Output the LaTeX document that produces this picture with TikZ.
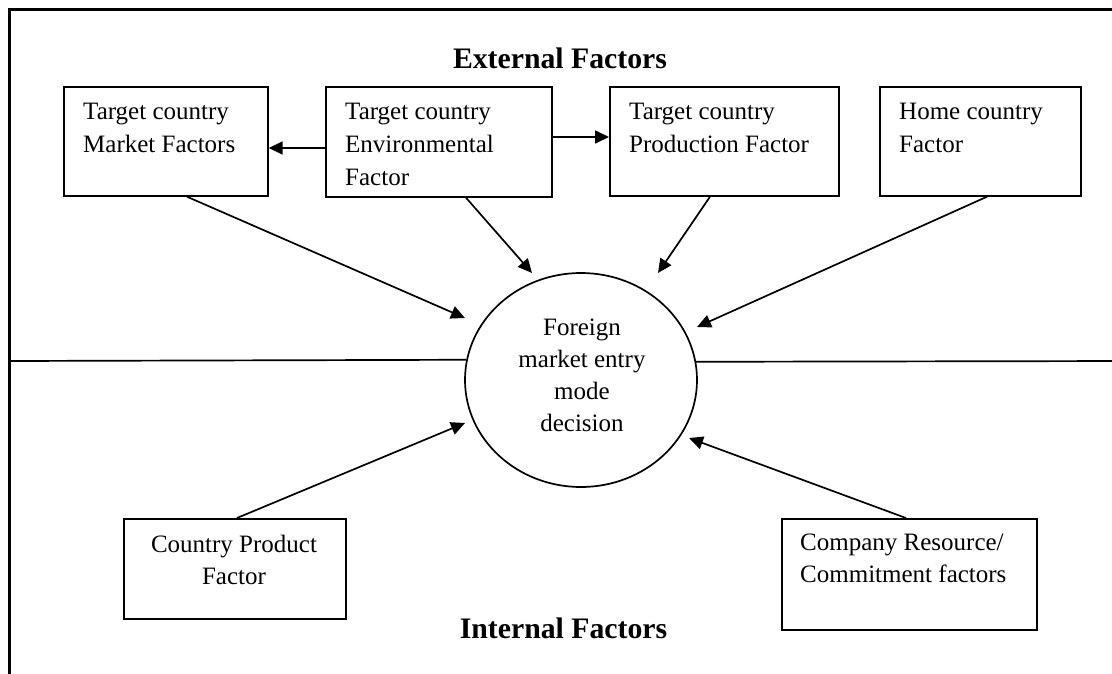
\documentclass[tikz,border=0pt]{standalone}
\usepackage{fontspec}
\setmainfont{Liberation Serif}
\usetikzlibrary{arrows.meta,shapes.geometric,calc}
\begin{document}
\begin{tikzpicture}[x=1pt,y=-1pt,
  box/.style={draw,line width=1.7pt,rectangle,inner sep=0pt,anchor=north west},
  txt/.style={inner sep=0pt,font=\fontsize{25}{33}\selectfont,align=left,anchor=north west},
  ctxt/.style={inner sep=0pt,font=\fontsize{25}{32}\selectfont,align=center,anchor=north},
  ttl/.style={inner sep=0pt,font=\fontsize{29.75}{36}\selectfont\bfseries,anchor=base},
  arr/.style={line width=1.7pt,-{Triangle[length=14pt,width=13pt]}},
  rule/.style={line width=1.7pt}]
\useasboundingbox (0,0) rectangle (1112,673);
\clip (0,0) rectangle (1112,673);

% outer frame (left and top edges)
\coordinate (fbl) at (9,690);
\coordinate (ftl) at (9,9);
\coordinate (ftr) at (1130,9);
\draw[line width=3pt] (fbl) -- (ftl) -- (ftr);

% titles
\node[ttl] (ext) at (560,68.3) {External Factors};
\node[ttl] (int) at (563.5,638.3) {Internal Factors};

% external factor boxes
\node[box,minimum width=204pt,minimum height=109pt] (b1) at (63,86) {};
\node[box,minimum width=226pt,minimum height=110pt] (b2) at (325,86) {};
\node[box,minimum width=229pt,minimum height=109pt] (b3) at (609,86) {};
\node[box,minimum width=201pt,minimum height=109pt] (b4) at (879,86) {};
\node[txt] (t1) at (83,102.5) {Target country\\Market Factors};
\node[txt] (t2) at (345,102.5) {Target country\\Environmental\\Factor};
\node[txt] (t3) at (629,102.5) {Target country\\Production Factor};
\node[txt] (t4) at (899,102.5) {Home country\\Factor};

% internal factor boxes
\node[box,minimum width=222pt,minimum height=100pt] (b5) at (123,518) {};
\node[box,minimum width=255pt,minimum height=111pt] (b6) at (781,518) {};
\node[ctxt,font=\fontsize{25}{31.5}\selectfont] (t5) at (234,535) {Country Product\\Factor};
\node[txt,font=\fontsize{25}{31.5}\selectfont] (t6) at (800,534) {Company Resource/\\Commitment factors};

% central decision
\node[draw,ellipse,line width=1.7pt,minimum width=232pt,minimum height=214pt,inner sep=0pt] (c) at (581,380) {};
\node[ctxt] (ct) at (582,318.5) {Foreign\\market entry\\mode\\decision};

% dividing line between external and internal factors
\coordinate (ml) at (9,361);
\coordinate (mr) at (1130,361);
\draw[rule] (ml) -- (c.170.55);
\draw[rule] (c.9.45) -- (mr);

% links between top boxes
\draw[arr] ($(b2.north west)+(0,62)$) -- ($(b1.north east)+(0,62)$);
\draw[arr] ($(b2.north east)+(0,51)$) -- ($(b3.north west)+(0,51)$);

% influences on the decision
\coordinate (p1) at (465,318);
\coordinate (p2) at (532,273);
\coordinate (p3) at (658,273);
\coordinate (p4) at (697,327);
\coordinate (p5) at (465,423);
\coordinate (p6) at (689,438);
\draw[arr] ($(b1.south west)+(124,0)$) -- (p1);
\draw[arr] ($(b2.south west)+(141,0)$) -- (p2);
\draw[arr] ($(b3.south west)+(101,0)$) -- (p3);
\draw[arr] ($(b4.south west)+(108,0)$) -- (p4);
\draw[arr] ($(b5.north west)+(114,0)$) -- (p5);
\draw[arr] ($(b6.north west)+(125,0)$) -- (p6);
\end{tikzpicture}
\end{document}
